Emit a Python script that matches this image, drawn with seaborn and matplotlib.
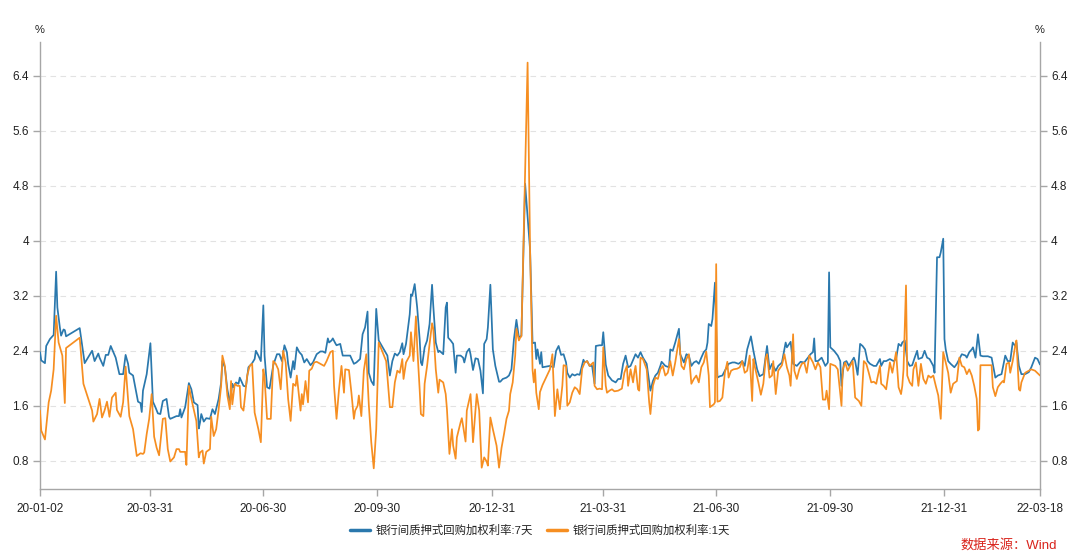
import numpy as np
import pandas as pd
import matplotlib
matplotlib.use("Agg")
import matplotlib.pyplot as plt
import seaborn as sns
from matplotlib.lines import Line2D

# ---------------- data ----------------
start_date = "2020-01-02"          # calendar days below are counted from this date
end_date = "2022-03-18"

series_7d_name = "银行间质押式回购加权利率:7天"
series_1d_name = "银行间质押式回购加权利率:1天"

days_7d = [
    0, 1, 4, 5, 8, 11, 13, 14, 16, 17,
    19, 20, 21, 32, 34, 36, 38, 42, 44, 47,
    48, 51, 53, 55, 57, 61, 64, 67, 69, 71,
    72, 75, 79, 81, 82, 83, 86, 89, 91, 93,
    95, 97, 99, 102, 104, 105, 110, 112, 113, 114,
    117, 120, 122, 124, 127, 128, 129, 130, 132, 134,
    137, 139, 141, 144, 146, 147, 149, 151, 153, 155,
    156, 158, 160, 161, 164, 166, 168, 171, 173, 174,
    176, 178, 180, 181, 183, 185, 188, 191, 193, 195,
    197, 199, 200, 202, 204, 205, 207, 209, 211, 213,
    215, 218, 220, 223, 226, 228, 230, 232, 233, 235,
    236, 238, 239, 242, 244, 247, 250, 253, 255, 258,
    260, 262, 264, 265, 267, 269, 271, 273, 280, 282,
    284, 286, 288, 290, 292, 293, 295, 298, 299, 300,
    302, 304, 306, 307, 308, 310, 312, 314, 316, 317,
    319, 321, 322, 325, 327, 328, 329, 331, 333, 335,
    336, 339, 341, 342, 344, 346, 347, 349, 351, 353,
    355, 357, 358, 360, 361, 363, 365, 367, 370, 371,
    373, 376, 378, 380, 382, 384, 385, 386, 388, 391,
    395, 397, 399, 400, 401, 403, 404, 405, 411, 414,
    416, 418, 420, 422, 424, 425, 427, 429, 431, 433,
    435, 438, 439, 441, 443, 445, 447, 448, 451, 453,
    454, 456, 458, 461, 464, 466, 468, 470, 472, 474,
    476, 480, 482, 484, 486, 489, 492, 494, 496, 498,
    500, 501, 504, 507, 508, 510, 512, 515, 516, 519,
    521, 523, 525, 527, 529, 531, 533, 535, 537, 538,
    539, 541, 542, 544, 546, 548, 550, 552, 555, 558,
    560, 563, 566, 568, 570, 573, 575, 578, 580, 583,
    586, 588, 590, 593, 595, 598, 601, 602, 605, 607,
    610, 613, 616, 619, 621, 623, 624, 625, 627, 630,
    633, 635, 636, 637, 640, 643, 645, 646, 648, 650,
    652, 653, 656, 657, 659, 661, 663, 665, 667, 669,
    672, 674, 677, 678, 680, 682, 685, 688, 690, 692,
    694, 695, 697, 699, 701, 703, 705, 707, 708, 711,
    713, 715, 717, 720, 721, 723, 725, 726, 728, 729,
    730, 732, 734, 737, 739, 741, 743, 746, 747, 749,
    751, 752, 754, 756, 758, 760, 764, 767, 770, 772,
    775, 778, 780, 782, 784, 786, 787, 789, 791, 794,
    797, 799, 802, 804, 806,
]
rate_7d = [
    2.38, 2.26, 2.22, 2.47, 2.57, 2.63, 3.55, 3.03, 2.74, 2.62,
    2.71, 2.70, 2.61, 2.73, 2.47, 2.22, 2.28, 2.40, 2.25, 2.36,
    2.30, 2.18, 2.34, 2.34, 2.47, 2.30, 2.06, 2.06, 2.34, 2.21,
    2.08, 2.04, 1.66, 1.64, 1.51, 1.82, 2.06, 2.51, 1.66, 1.58,
    1.49, 1.48, 1.67, 1.70, 1.44, 1.41, 1.45, 1.45, 1.55, 1.43,
    1.58, 1.93, 1.84, 1.65, 1.61, 1.27, 1.36, 1.48, 1.37, 1.42,
    1.41, 1.55, 1.48, 1.70, 1.94, 2.25, 2.16, 1.84, 1.65, 1.92,
    1.87, 1.94, 1.92, 2.01, 1.89, 1.88, 2.16, 2.22, 2.28, 2.40,
    2.33, 2.25, 3.06, 2.33, 1.87, 1.85, 2.19, 2.35, 2.35, 2.25,
    2.48, 2.38, 2.21, 2.01, 2.25, 2.13, 2.45, 2.38, 2.34, 2.23,
    2.28, 2.19, 2.23, 2.35, 2.39, 2.39, 2.37, 2.58, 2.52, 2.55,
    2.58, 2.51, 2.48, 2.50, 2.33, 2.33, 2.33, 2.21, 2.23, 2.28,
    2.64, 2.74, 2.97, 2.08, 1.96, 1.90, 3.01, 2.55, 2.33, 2.04,
    2.25, 2.36, 2.33, 2.38, 2.51, 2.35, 2.50, 2.93, 3.22, 3.20,
    3.37, 3.03, 2.57, 2.23, 2.19, 2.45, 2.55, 2.79, 3.36, 3.05,
    2.52, 2.38, 2.40, 2.35, 3.03, 3.10, 2.59, 2.55, 2.50, 2.08,
    2.33, 2.33, 2.30, 2.23, 2.38, 2.43, 2.35, 2.12, 2.29, 2.28,
    2.11, 1.78, 2.50, 2.57, 2.74, 3.36, 2.42, 2.18, 1.95, 1.95,
    1.99, 2.01, 2.04, 2.13, 2.57, 2.85, 2.72, 2.59, 2.62, 4.83,
    3.87, 2.51, 2.52, 2.28, 2.42, 2.21, 2.38, 2.16, 2.18, 2.16,
    2.40, 2.47, 2.34, 2.35, 2.23, 2.08, 2.01, 2.06, 2.04, 2.06,
    2.05, 2.27, 2.23, 2.25, 2.18, 2.18, 1.92, 2.47, 2.48, 2.48,
    2.67, 2.20, 2.04, 1.97, 1.94, 1.99, 1.99, 2.21, 2.33, 2.16,
    2.18, 2.35, 2.30, 2.38, 2.30, 2.21, 1.82, 1.96, 2.04, 2.08,
    2.18, 2.24, 2.18, 2.16, 2.42, 2.40, 2.52, 2.72, 2.35, 2.23,
    2.35, 2.33, 2.18, 2.23, 2.25, 2.21, 2.30, 2.38, 2.42, 2.52,
    2.79, 2.76, 2.86, 3.39, 2.01, 2.03, 2.04, 2.11, 2.21, 2.23,
    2.23, 2.21, 2.25, 2.18, 2.42, 2.61, 2.40, 2.13, 2.03, 2.06,
    2.47, 2.13, 2.21, 2.11, 2.18, 2.23, 2.52, 2.45, 2.53, 2.21,
    2.18, 2.24, 2.23, 2.30, 2.35, 2.38, 2.58, 2.25, 2.25, 2.30,
    2.18, 2.23, 3.54, 2.45, 2.40, 2.33, 2.25, 1.89, 2.23, 2.25,
    2.18, 2.21, 2.30, 2.25, 2.05, 2.50, 2.47, 2.42, 2.25, 2.21,
    2.18, 2.18, 2.28, 2.18, 2.25, 2.25, 2.28, 2.25, 2.28, 2.50,
    2.47, 2.52, 2.55, 2.25, 2.18, 2.19, 2.30, 2.40, 2.28, 2.30,
    2.40, 2.30, 2.28, 2.18, 2.08, 3.76, 3.76, 3.83, 4.03, 2.57,
    2.42, 2.25, 2.21, 2.16, 2.21, 2.28, 2.35, 2.33, 2.30, 2.38,
    2.42, 2.45, 2.30, 2.64, 2.33, 2.32, 2.32, 2.30, 2.01, 2.04,
    2.06, 2.33, 2.25, 2.25, 2.52, 2.47, 2.52, 2.18, 2.06, 2.06,
    2.09, 2.16, 2.30, 2.28, 2.20,
]

days_1d = [
    0, 1, 4, 7, 9, 11, 13, 15, 18, 20,
    21, 32, 35, 42, 43, 46, 48, 50, 52, 54,
    56, 58, 61, 62, 65, 67, 69, 72, 75, 78,
    81, 83, 84, 86, 88, 90, 92, 94, 96, 99,
    101, 103, 105, 108, 110, 112, 113, 117, 118, 120,
    122, 126, 128, 129, 131, 132, 134, 137, 138, 140,
    142, 144, 146, 147, 149, 151, 153, 154, 155, 157,
    159, 161, 162, 164, 167, 169, 171, 173, 176, 178,
    180, 181, 183, 186, 188, 190, 192, 194, 196, 198,
    200, 202, 204, 206, 207, 210, 211, 212, 214, 216,
    217, 219, 221, 223, 226, 229, 231, 234, 236, 237,
    239, 241, 243, 245, 246, 249, 251, 253, 254, 256,
    257, 259, 261, 263, 265, 267, 269, 271, 273, 279,
    282, 284, 286, 288, 290, 292, 293, 295, 298, 299,
    301, 303, 304, 306, 307, 309, 310, 312, 314, 316,
    317, 319, 321, 322, 325, 327, 328, 330, 332, 333,
    335, 336, 339, 340, 341, 343, 344, 347, 348, 349,
    352, 354, 356, 358, 360, 361, 363, 365, 368, 370,
    372, 374, 376, 378, 379, 381, 383, 384, 386, 387,
    388, 393, 395, 397, 398, 399, 400, 402, 403, 405,
    411, 413, 415, 417, 419, 421, 422, 424, 425, 427,
    429, 431, 433, 435, 437, 439, 441, 443, 446, 447,
    449, 451, 453, 454, 456, 457, 459, 461, 463, 466,
    469, 471, 473, 474, 476, 478, 479, 480, 482, 483,
    484, 486, 489, 491, 492, 494, 496, 498, 500, 502,
    504, 506, 508, 510, 512, 515, 517, 519, 521, 523,
    525, 527, 529, 531, 533, 535, 537, 539, 540, 543,
    544, 545, 546, 548, 550, 552, 554, 555, 557, 559,
    562, 564, 566, 568, 570, 572, 574, 575, 576, 579,
    581, 583, 585, 586, 588, 590, 591, 593, 595, 598,
    600, 602, 604, 605, 607, 608, 610, 612, 614, 616,
    618, 620, 623, 625, 627, 629, 631, 633, 634, 636,
    637, 641, 643, 646, 647, 649, 651, 653, 655, 657,
    660, 662, 664, 666, 668, 670, 672, 674, 677, 678,
    680, 682, 685, 687, 690, 692, 694, 695, 696, 698,
    699, 701, 703, 704, 706, 708, 710, 712, 714, 716,
    718, 720, 722, 724, 726, 728, 730, 732, 734, 736,
    739, 741, 743, 745, 747, 749, 751, 753, 755, 756,
    757, 758, 767, 768, 770, 772, 774, 776, 777, 779,
    781, 782, 784, 786, 787, 789, 790, 791, 794, 797,
    799, 802, 806,
]
rate_1d = [
    1.53, 1.24, 1.11, 1.65, 1.82, 2.13, 2.91, 2.52, 2.33, 1.64,
    2.44, 2.59, 1.92, 1.53, 1.37, 1.48, 1.70, 1.43, 1.53, 1.66,
    1.44, 1.72, 1.79, 1.54, 1.44, 1.65, 2.17, 1.45, 1.26, 0.87,
    0.91, 0.90, 0.92, 1.19, 1.41, 1.77, 1.15, 0.99, 0.88, 1.41,
    1.42, 0.97, 0.79, 0.85, 0.97, 0.97, 0.93, 0.93, 0.74, 1.89,
    1.70, 1.38, 0.85, 0.92, 0.95, 0.76, 0.93, 0.97, 1.44, 1.16,
    1.26, 1.55, 1.89, 2.33, 2.18, 1.75, 1.55, 1.96, 1.62, 1.92,
    1.89, 1.89, 1.58, 1.53, 2.04, 2.18, 2.21, 1.50, 1.26, 1.07,
    2.13, 2.01, 1.41, 1.41, 2.25, 2.21, 2.13, 1.84, 2.40, 2.23,
    1.70, 1.38, 1.92, 1.89, 2.04, 1.53, 1.77, 1.62, 1.96, 1.65,
    2.11, 2.14, 2.23, 2.24, 2.21, 2.18, 2.25, 2.38, 2.40, 1.89,
    1.41, 1.84, 2.18, 1.79, 2.13, 2.12, 1.79, 1.41, 1.53, 1.60,
    1.75, 1.45, 2.11, 2.35, 1.62, 1.07, 0.69, 1.26, 2.52, 2.25,
    1.58, 1.58, 1.94, 2.11, 2.08, 2.28, 1.99, 2.23, 2.33, 2.67,
    2.25, 2.90, 2.47, 1.84, 1.48, 1.45, 1.92, 2.18, 2.50, 2.80,
    2.72, 2.13, 1.79, 1.98, 1.94, 1.77, 1.55, 0.90, 1.26, 1.02,
    0.83, 1.14, 1.36, 1.42, 1.31, 1.08, 1.53, 1.77, 1.45, 1.07,
    1.77, 1.53, 0.70, 0.85, 0.79, 0.73, 1.43, 1.26, 1.02, 0.70,
    0.99, 1.19, 1.41, 1.53, 1.77, 1.94, 2.33, 2.72, 2.55, 2.59,
    2.61, 6.59, 3.87, 2.12, 1.94, 2.13, 1.79, 1.55, 1.80, 1.90,
    2.13, 2.35, 1.45, 1.84, 1.55, 1.89, 2.19, 2.18, 1.60, 1.65,
    1.79, 1.87, 1.84, 1.77, 2.14, 2.23, 2.25, 2.18, 2.23, 1.89,
    1.84, 1.85, 1.84, 2.45, 1.89, 1.79, 1.82, 1.84, 1.81, 1.82,
    1.85, 2.08, 2.18, 1.89, 2.13, 1.94, 2.08, 2.18, 1.84, 1.82,
    2.30, 2.28, 2.13, 1.65, 1.48, 1.89, 2.01, 1.99, 2.13, 2.18,
    2.04, 2.08, 2.25, 2.04, 2.23, 2.57, 2.18, 2.13, 2.28, 2.35,
    1.92, 1.99, 2.04, 1.94, 2.16, 2.23, 2.39, 2.04, 1.58, 1.62,
    1.65, 3.66, 1.66, 1.67, 1.72, 2.08, 2.24, 2.01, 2.11, 2.13,
    2.14, 2.16, 2.25, 2.08, 2.11, 2.33, 1.67, 2.28, 2.18, 1.94,
    1.76, 1.92, 2.30, 2.35, 2.01, 2.04, 2.25, 1.77, 2.11, 2.19,
    2.35, 2.16, 2.04, 1.89, 2.64, 2.11, 1.99, 2.13, 2.21, 2.23,
    2.08, 2.33, 2.23, 2.13, 2.23, 2.16, 1.69, 1.69, 1.82, 1.55,
    2.21, 2.18, 2.13, 1.60, 2.13, 2.23, 2.11, 2.18, 2.25, 1.72,
    1.67, 1.60, 2.25, 2.21, 2.08, 1.94, 1.95, 1.92, 2.18, 1.92,
    1.89, 1.84, 2.23, 2.08, 2.38, 1.87, 1.77, 1.89, 2.13, 3.35,
    2.04, 1.94, 1.89, 2.13, 2.23, 1.89, 2.21, 1.99, 1.92, 2.04,
    2.01, 2.04, 1.89, 1.75, 1.41, 2.38, 2.23, 2.08, 1.79, 1.92,
    1.96, 2.30, 2.18, 2.16, 2.06, 2.13, 2.04, 1.89, 1.70, 1.24,
    1.26, 2.19, 2.19, 1.87, 1.74, 1.87, 1.92, 1.96, 1.94, 2.21,
    2.23, 2.08, 2.25, 2.47, 2.55, 1.84, 1.82, 1.94, 2.08, 2.11,
    2.13, 2.11, 2.04,
]

x_tick_dates = ["2020-01-02", "2020-03-31", "2020-06-30", "2020-09-30",
                "2020-12-31", "2021-03-31", "2021-06-30", "2021-09-30",
                "2021-12-31", "2022-03-18"]
y_ticks = [0.8, 1.6, 2.4, 3.2, 4.0, 4.8, 5.6, 6.4]
source_text = "数据来源：Wind"

# ---------------- build tables ----------------
t0 = pd.Timestamp(start_date)
df7 = pd.DataFrame({"date": t0 + pd.to_timedelta(days_7d, unit="D"), "rate": rate_7d})
df1 = pd.DataFrame({"date": t0 + pd.to_timedelta(days_1d, unit="D"), "rate": rate_1d})

# ---------------- style ----------------
sns.set_theme(style="white")
plt.rcParams["font.family"] = ["Liberation Sans", "Noto Sans CJK SC", "DejaVu Sans"]

C7 = "#2a78ad"
C1 = "#f68e21"
AX = "#a6a6a6"

fig = plt.figure(figsize=(10.8, 5.6), dpi=100)
ax = fig.add_axes([40 / 1080, 71 / 560, 1000 / 1080, 447 / 560])

sns.lineplot(data=df7, x="date", y="rate", ax=ax, color=C7, lw=1.25,
             legend=False, sort=True, estimator=None, zorder=3)
sns.lineplot(data=df1, x="date", y="rate", ax=ax, color=C1, lw=1.25,
             legend=False, sort=True, estimator=None, zorder=4)

ax.set_xlim(pd.Timestamp(start_date), pd.Timestamp(end_date))
ax.set_ylim(0.39, 6.89)

xt = pd.to_datetime(x_tick_dates)
ax.set_xticks(xt)
ax.set_xticklabels([d.strftime("%y-%m-%d") for d in xt])
ax.set_yticks(y_ticks)
ax.set_yticklabels([f"{v:g}" for v in y_ticks])

ax.set_xlabel("")
ax.set_ylabel("")

for side in ["left", "right", "bottom"]:
    ax.spines[side].set_visible(True)
    ax.spines[side].set_color(AX)
    ax.spines[side].set_linewidth(1.0)
ax.spines["top"].set_visible(False)

ax.tick_params(axis="x", direction="out", length=5, width=1, color=AX,
               labelsize=8.5, labelcolor="#222222", pad=5, bottom=True)
ax.tick_params(axis="y", direction="out", length=5, width=1, color=AX,
               labelsize=8.5, labelcolor="#222222", pad=3,
               left=True, right=True, labelleft=True, labelright=True)

ax.yaxis.grid(True, color="#e2e2e2", lw=0.8, linestyle=(0, (5, 4)))
ax.xaxis.grid(False)
ax.set_axisbelow(True)

fig.text(40 / 1080, 1 - 30 / 560, "%", ha="center", va="center",
         fontsize=8, color="#222222")
fig.text(1040 / 1080, 1 - 30 / 560, "%", ha="center", va="center",
         fontsize=8, color="#222222")

handles = [Line2D([0], [0], color=C7, lw=2.5),
           Line2D([0], [0], color=C1, lw=2.5)]
fig.legend(handles, [series_7d_name, series_1d_name], loc="center",
           bbox_to_anchor=(0.5, 1 - 530 / 560), ncol=2, frameon=False,
           fontsize=8.2, handlelength=1.8, handletextpad=0.5,
           columnspacing=1.2, labelcolor="#222222")

fig.text(1057 / 1080, 1 - 545 / 560, source_text, ha="right", va="center",
         fontsize=9.5, color="#d9241c")

fig.savefig("out.png", dpi=100)
